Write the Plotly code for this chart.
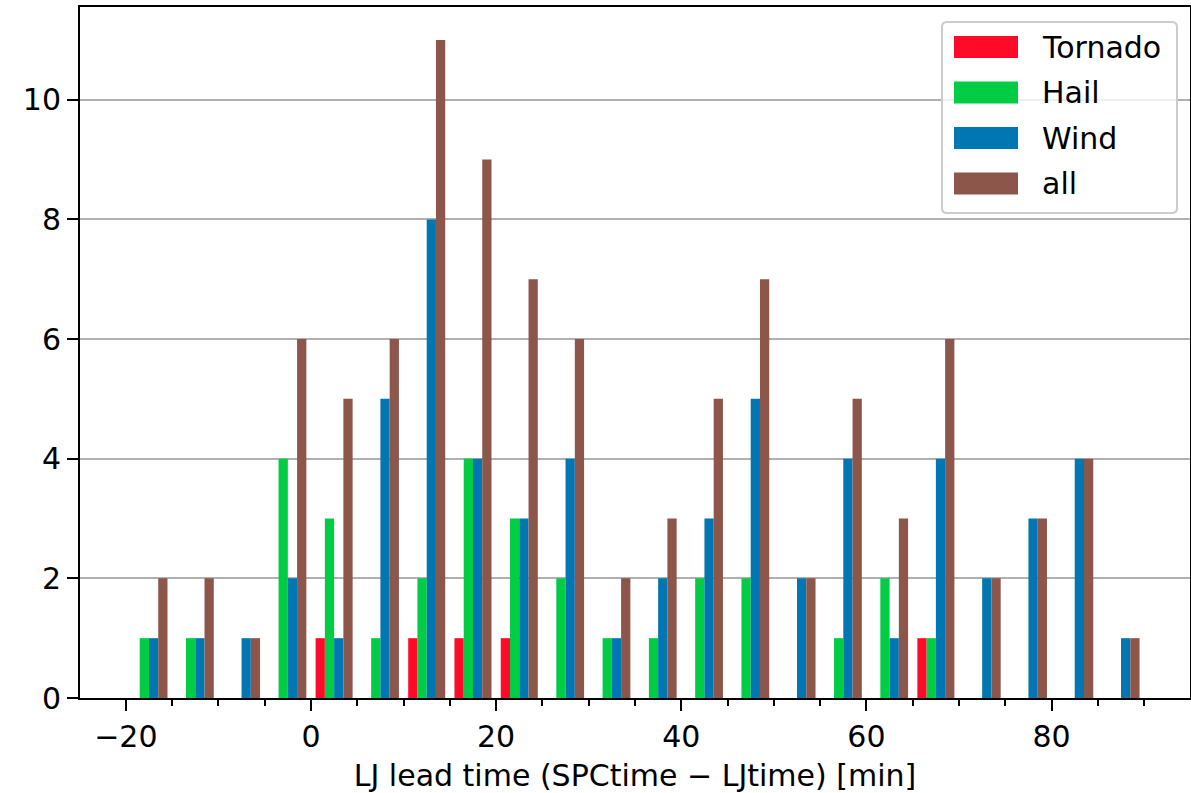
import plotly.graph_objects as go

# ---- data ----
bin_centers = [-17.5, -12.5, -7.5, -2.5, 2.5, 7.5, 12.5, 17.5, 22.5, 27.5, 32.5,
               37.5, 42.5, 47.5, 52.5, 57.5, 62.5, 67.5, 72.5, 77.5, 82.5, 87.5]
tornado = [0, 0, 0, 0, 1, 0, 1, 1, 1, 0, 0, 0, 0, 0, 0, 0, 0, 1, 0, 0, 0, 0]
hail    = [1, 1, 0, 4, 3, 1, 2, 4, 3, 2, 1, 1, 2, 2, 0, 1, 2, 1, 0, 0, 0, 0]
wind    = [1, 1, 1, 2, 1, 5, 8, 4, 3, 4, 1, 2, 3, 5, 2, 4, 1, 4, 2, 3, 4, 1]
allrep  = [2, 2, 1, 6, 5, 6, 11, 9, 7, 6, 2, 3, 5, 7, 2, 5, 3, 6, 2, 3, 4, 1]

series_names = ["Tornado", "Hail", "Wind", "all"]
series_values = [tornado, hail, wind, allrep]
series_colors = ["#ff0a28", "#00cc44", "#0077b3", "#8c564b"]

x_title = "LJ lead time (SPCtime \u2212 LJtime) [min]"

FONT = "DejaVu Sans"
FS = 30

fig = go.Figure()
for name, vals, col in zip(series_names, series_values, series_colors):
    fig.add_trace(go.Bar(x=bin_centers, y=vals, name=name, marker_color=col,
                         marker_line_width=0, showlegend=False))

# plot area geometry (pixels)
W, H = 1191, 793
L, R, T, B = 80, 1190, 7, 698
pw, ph = R - L, B - T

def px(x):
    return (x - L) / pw

def py(y):
    return (B - y) / ph

# custom legend
shapes = []
bx0, bx1, by0, by1, rr = 942, 1177, 22, 213, 5
path = (f"M {px(bx0+rr)},{py(by0)} L {px(bx1-rr)},{py(by0)} "
        f"Q {px(bx1)},{py(by0)} {px(bx1)},{py(by0+rr)} "
        f"L {px(bx1)},{py(by1-rr)} Q {px(bx1)},{py(by1)} {px(bx1-rr)},{py(by1)} "
        f"L {px(bx0+rr)},{py(by1)} Q {px(bx0)},{py(by1)} {px(bx0)},{py(by1-rr)} "
        f"L {px(bx0)},{py(by0+rr)} Q {px(bx0)},{py(by0)} {px(bx0+rr)},{py(by0)} Z")
shapes.append(dict(type="path", path=path, xref="paper", yref="paper",
                   fillcolor="rgba(255,255,255,0.8)", line=dict(color="#cccccc", width=2),
                   layer="above"))
annotations = []
row_centers = [47, 92.5, 138, 183.5]
for name, col, yc in zip(series_names, series_colors, row_centers):
    shapes.append(dict(type="rect", xref="paper", yref="paper",
                       x0=px(954), x1=px(1018), y0=py(yc - 11), y1=py(yc + 11),
                       fillcolor=col, line=dict(width=0), layer="above"))
    annotations.append(dict(text=name, xref="paper", yref="paper", x=px(1040), y=py(yc),
                            xanchor="left", yanchor="middle", showarrow=False,
                            font=dict(family=FONT, size=FS, color="black")))

fig.update_layout(
    width=W, height=H,
    margin=dict(l=L, r=W - R, t=T, b=H - B, autoexpand=False),
    paper_bgcolor="white", plot_bgcolor="white",
    barmode="group", bargap=0.2, bargroupgap=0,
    font=dict(family=FONT, size=FS, color="black"),
    shapes=shapes, annotations=annotations,
    xaxis=dict(range=[-24.95, 94.95], tick0=0, dtick=20, ticks="outside",
               ticklen=11, tickwidth=2, tickcolor="black", automargin=False,
               showline=True, linecolor="black", linewidth=2, mirror=True,
               showgrid=False, zeroline=False,
               minor=dict(dtick=5, tick0=0, ticks="outside", ticklen=6,
                          tickwidth=2, tickcolor="black", showgrid=False),
               title=dict(text=x_title, font=dict(family=FONT, size=FS), standoff=12),
               tickfont=dict(family=FONT, size=FS)),
    yaxis=dict(range=[0, 11.55], tick0=0, dtick=2, ticks="outside",
               ticklen=11, tickwidth=2, tickcolor="black", automargin=False,
               showline=True, linecolor="black", linewidth=2, mirror=True,
               showgrid=True, gridcolor="#b0b0b0", gridwidth=2, zeroline=False,
               tickfont=dict(family=FONT, size=FS)),
)

fig.write_html("out.html", config={"displayModeBar": False},
               post_script="document.body.style.margin='0';document.body.style.overflow='hidden';")
